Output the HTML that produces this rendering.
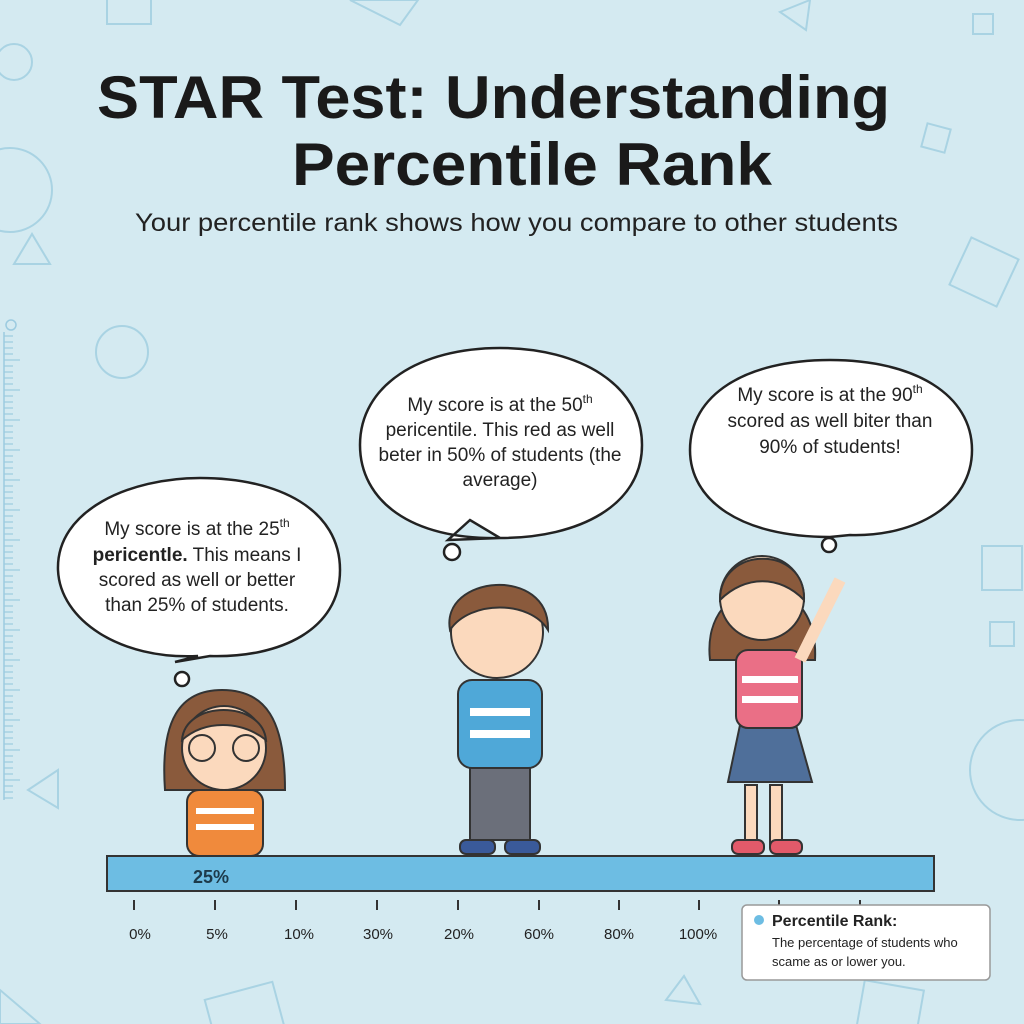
<!DOCTYPE html>
<html><head><meta charset="utf-8"><style>
body{margin:0;width:1024px;height:1024px;overflow:hidden;background:#d4eaf1;font-family:"Liberation Sans",sans-serif}
svg{position:absolute;left:0;top:0}
</style></head><body>
<svg width="1024" height="1024" viewBox="0 0 1024 1024">
<rect width="1024" height="1024" fill="#d4eaf1"/>
<g fill="none" stroke="#a9d3e3" stroke-width="2">
<rect x="107" y="-10" width="44" height="34"/><circle cx="14" cy="62" r="18"/><circle cx="10" cy="190" r="42"/>
<polygon points="14,264 32,234 50,264"/><circle cx="122" cy="352" r="26"/><polygon points="350,0 418,0 400,25"/>
<polygon points="780,12 810,0 806,30"/><rect x="973" y="14" width="20" height="20"/><rect x="924" y="126" width="24" height="24" transform="rotate(15 936 138)"/>
<rect x="958" y="246" width="52" height="52" transform="rotate(25 984 272)"/><rect x="982" y="546" width="40" height="44"/>
<rect x="990" y="622" width="24" height="24"/><circle cx="1020" cy="770" r="50"/><polygon points="28,790 58,770 58,808"/>
<polygon points="666,1000 684,976 700,1004"/><rect x="210" y="990" width="70" height="50" transform="rotate(-15 245 1015)"/>
<rect x="860" y="985" width="60" height="50" transform="rotate(10 890 1010)"/><polygon points="0,990 40,1024 0,1024"/>
</g>
<g stroke="#9ccbe0" stroke-width="1.5"><line x1="4" y1="332" x2="4" y2="800"/>
<circle cx="11" cy="325" r="5" fill="none"/>
</g>
<g stroke="#9ccbe0" stroke-width="1.2" id="r"></g>
<text x="97" y="118" font-size="60" font-weight="bold" fill="#1a1a1a" textLength="793" lengthAdjust="spacingAndGlyphs">STAR Test: Understanding</text>
<text x="292" y="185" font-size="60" font-weight="bold" fill="#1a1a1a" textLength="480" lengthAdjust="spacingAndGlyphs">Percentile Rank</text>
<text x="135" y="231" font-size="25" fill="#222" textLength="763" lengthAdjust="spacingAndGlyphs">Your percentile rank shows how you compare to other students</text>
<g fill="#fff" stroke="#222" stroke-width="2.5">
<path d="M198,656 C120,660 60,620 58,570 C56,510 130,478 200,478 C280,478 340,510 340,570 C340,630 280,658 210,656 L175,662 Z"/>
<circle cx="182" cy="679" r="7"/>
<path d="M500,538 C410,540 360,500 360,445 C360,385 420,348 500,348 C580,348 642,385 642,445 C642,505 580,538 500,538 L470,520 L448,540 Z"/>
<circle cx="452" cy="552" r="8"/>
<path d="M830,537 C740,537 690,500 690,450 C690,395 745,360 830,360 C915,360 972,395 972,450 C972,505 915,537 850,535 Z"/>
<circle cx="829" cy="545" r="7"/>
</g>
<g font-size="19" fill="#222" text-anchor="middle">
<text x="197" y="535">My score is at the 25<tspan font-size="12" dy="-8">th</tspan></text>
<text x="197" y="561"><tspan font-weight="bold">pericentle.</tspan> This means I</text>
<text x="197" y="586">scored as well or better</text>
<text x="197" y="611">than 25% of students.</text>
<text x="500" y="411">My score is at the 50<tspan font-size="12" dy="-8">th</tspan></text>
<text x="500" y="436">pericentile. This red as well</text>
<text x="500" y="461">beter in 50% of students (the</text>
<text x="500" y="486">average)</text>
<text x="830" y="401">My score is at the 90<tspan font-size="12" dy="-8">th</tspan></text>
<text x="830" y="427">scored as well biter than</text>
<text x="830" y="453">90% of students!</text>
</g>
<g stroke="#333" stroke-width="2">
<path d="M165,790 C160,720 180,690 222,690 C266,690 285,720 285,790 Z" fill="#8a5a3c"/>
<rect x="187" y="790" width="76" height="66" rx="12" fill="#f08a3c"/>
<rect x="196" y="808" width="58" height="6" fill="#fff" stroke="none"/><rect x="196" y="824" width="58" height="6" fill="#fff" stroke="none"/>
<circle cx="224" cy="748" r="42" fill="#fbd9bd"/>
<path d="M182,740 C185,700 262,700 266,740 C240,720 205,720 182,740Z" fill="#8a5a3c"/>
<circle cx="202" cy="748" r="13" fill="none"/><circle cx="246" cy="748" r="13" fill="none"/>
</g>
<g stroke="#333" stroke-width="2">
<rect x="470" y="760" width="60" height="80" fill="#6b6f7a"/>
<rect x="460" y="840" width="35" height="14" rx="6" fill="#3a5a9a"/><rect x="505" y="840" width="35" height="14" rx="6" fill="#3a5a9a"/>
<rect x="458" y="680" width="84" height="88" rx="14" fill="#4fa8d8"/>
<rect x="470" y="708" width="60" height="8" fill="#fff" stroke="none"/><rect x="470" y="730" width="60" height="8" fill="#fff" stroke="none"/>
<circle cx="497" cy="632" r="46" fill="#fbd9bd"/>
<path d="M450,630 C440,575 550,565 548,630 C530,600 470,600 450,630Z" fill="#8a5a3c"/>
</g>
<g stroke="#333" stroke-width="2">
<path d="M710,660 C700,570 820,560 815,660Z" fill="#8a5a3c"/>
<rect x="745" y="785" width="12" height="60" fill="#fbd9bd"/><rect x="770" y="785" width="12" height="60" fill="#fbd9bd"/>
<rect x="732" y="840" width="32" height="14" rx="6" fill="#e25a6a"/><rect x="770" y="840" width="32" height="14" rx="6" fill="#e25a6a"/>
<path d="M740,725 L796,725 L812,782 L728,782Z" fill="#4f6f9a"/>
<rect x="736" y="650" width="66" height="78" rx="12" fill="#ea6f86"/>
<rect x="742" y="676" width="56" height="7" fill="#fff" stroke="none"/><rect x="742" y="696" width="56" height="7" fill="#fff" stroke="none"/>
<path d="M800,660 L840,580" stroke-width="12" stroke="#fbd9bd"/>
<circle cx="762" cy="598" r="42" fill="#fbd9bd"/>
<path d="M720,600 C720,545 806,545 804,600 C780,575 745,575 720,600Z" fill="#8a5a3c"/>
</g>
<rect x="107" y="856" width="827" height="35" fill="#6dbde3" stroke="#333" stroke-width="2"/>
<text x="193" y="883" font-size="18" font-weight="bold" fill="#1d3a4a">25%</text>
<g stroke="#333" stroke-width="2">
<line x1="134" y1="900" x2="134" y2="910"/><line x1="215" y1="900" x2="215" y2="910"/><line x1="296" y1="900" x2="296" y2="910"/>
<line x1="377" y1="900" x2="377" y2="910"/><line x1="458" y1="900" x2="458" y2="910"/><line x1="539" y1="900" x2="539" y2="910"/>
<line x1="619" y1="900" x2="619" y2="910"/><line x1="699" y1="900" x2="699" y2="910"/><line x1="779" y1="900" x2="779" y2="910"/><line x1="860" y1="900" x2="860" y2="910"/>
</g>
<g font-size="15" fill="#222" text-anchor="middle">
<text x="140" y="939">0%</text><text x="217" y="939">5%</text><text x="299" y="939">10%</text><text x="378" y="939">30%</text>
<text x="459" y="939">20%</text><text x="539" y="939">60%</text><text x="619" y="939">80%</text><text x="698" y="939">100%</text>
</g>
<rect x="742" y="905" width="248" height="75" rx="5" fill="#fff" stroke="#999" stroke-width="1.5"/>
<circle cx="759" cy="920" r="5" fill="#6dbde3"/>
<text x="772" y="926" font-size="16" font-weight="bold" fill="#222">Percentile Rank:</text>
<text x="772" y="947" font-size="13" fill="#222">The percentage of students who</text>
<text x="772" y="966" font-size="13" fill="#222">scame as or lower you.</text>
</svg>
<script>
var g=document.getElementById('r'),s='';for(var y=336;y<800;y+=6){var w=(y%30==0)?16:9;s+='<line x1="4" y1="'+y+'" x2="'+(4+w)+'" y2="'+y+'"/>';}g.innerHTML=s;
</script>
</body></html>
